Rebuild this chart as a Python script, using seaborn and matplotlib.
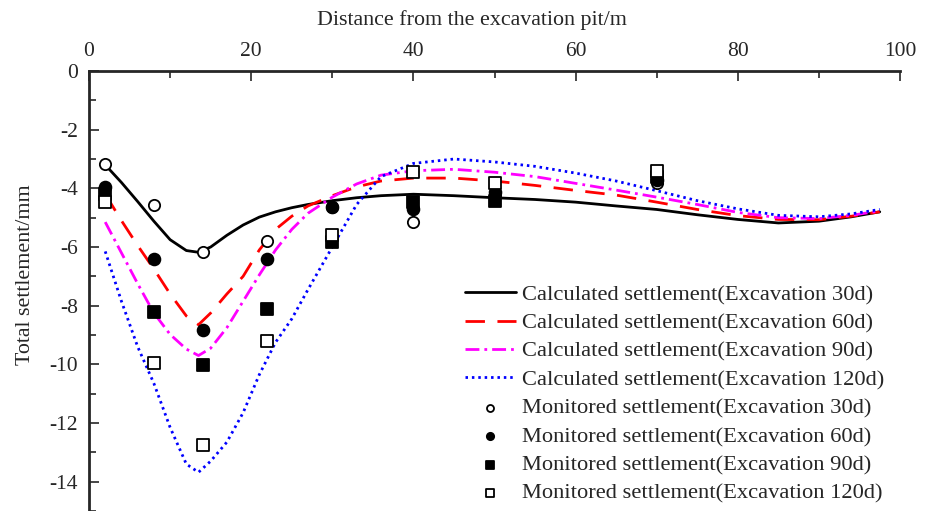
import matplotlib
matplotlib.use("Agg")
import matplotlib.pyplot as plt
from matplotlib.ticker import MultipleLocator
import seaborn as sns
import pandas as pd

# calculated curves
calc_x = [2, 4, 6, 8, 10, 12, 13.5, 15, 17, 19, 21, 23, 25, 27, 30, 33, 36, 40,
          45, 50, 55, 60, 65, 70, 75, 80, 85, 90, 94, 97.5]
calc_30d = [-3.2, -3.8, -4.45, -5.12, -5.75, -6.12, -6.18, -6.0, -5.6, -5.25, -4.98,
            -4.8, -4.66, -4.55, -4.42, -4.32, -4.25, -4.2, -4.25, -4.32, -4.38, -4.47,
            -4.6, -4.72, -4.9, -5.06, -5.18, -5.12, -4.97, -4.8]
calc_60d = [-4.2, -5.1, -5.95, -6.75, -7.6, -8.35, -8.65, -8.25, -7.6, -7.0, -6.1,
            -5.4, -4.95, -4.6, -4.25, -3.95, -3.75, -3.65, -3.65, -3.75, -3.9, -4.07,
            -4.23, -4.47, -4.72, -4.93, -5.06, -5.07, -4.95, -4.8]
calc_90d = [-5.15, -6.2, -7.25, -8.25, -8.98, -9.48, -9.7, -9.45, -8.75, -7.85, -6.95,
            -6.1, -5.4, -4.85, -4.3, -3.85, -3.55, -3.4, -3.35, -3.45, -3.6, -3.83,
            -4.06, -4.3, -4.55, -4.82, -5.0, -5.03, -4.92, -4.77]
calc_120d = [-6.15, -7.85, -9.4, -10.65, -12.15, -13.4, -13.68, -13.3, -12.65, -11.65,
             -10.35, -9.25, -8.45, -7.45, -6.0, -4.55, -3.6, -3.15, -3.0, -3.1, -3.25,
             -3.48, -3.75, -4.08, -4.42, -4.7, -4.92, -4.97, -4.87, -4.72]

# monitored points
mon_x = [2, 8, 14, 22, 30, 40, 50, 70]
mon_30d = [-3.17, -4.57, -6.17, -5.8, -4.62, -5.15, -4.2, -3.82]
mon_60d = [-3.95, -6.4, -8.82, -6.42, -4.63, -4.72, -4.12, -3.7]
mon_90d = [-4.18, -8.22, -10.03, -8.12, -5.82, -4.45, -4.42, -3.62]
mon_120d = [-4.48, -9.95, -12.75, -9.2, -5.6, -3.45, -3.83, -3.4]

calc_names = ["Calculated settlement(Excavation 30d)", "Calculated settlement(Excavation 60d)",
              "Calculated settlement(Excavation 90d)", "Calculated settlement(Excavation 120d)"]
mon_names = ["Monitored settlement(Excavation 30d)", "Monitored settlement(Excavation 60d)",
             "Monitored settlement(Excavation 90d)", "Monitored settlement(Excavation 120d)"]

calc_df = pd.concat([
    pd.DataFrame({"x": calc_x, "y": ys, "series": n})
    for ys, n in zip([calc_30d, calc_60d, calc_90d, calc_120d], calc_names)
])

sns.set_style("ticks")
plt.rcParams["font.family"] = ["Liberation Serif", "DejaVu Serif"]
plt.rcParams["axes.unicode_minus"] = False

fig = plt.figure(figsize=(9.35, 5.11), dpi=100)
ax = fig.add_axes([0.0952, 0.0, 0.8674, 0.861])

palette = dict(zip(calc_names, ["black", "red", "magenta", "blue"]))
dashes = dict(zip(calc_names, ["", (7, 4.5), (5, 1.8, 1, 1.8), (0.9, 1.4)]))
sns.lineplot(data=calc_df, x="x", y="y", hue="series", style="series",
             palette=palette, dashes=dashes, linewidth=2.0, estimator=None,
             legend=False, ax=ax)

mon_style = [("o", "white", 66), ("o", "black", 72), ("s", "black", 72), ("s", "white", 70)]
for ys, n, (m, fc, s) in zip([mon_30d, mon_60d, mon_90d, mon_120d], mon_names, mon_style):
    sns.scatterplot(x=mon_x, y=ys, marker=m, s=s, facecolor=fc, edgecolor="black",
                    linewidth=1.3, label=n, legend=False, ax=ax, zorder=3)

ax.set_xlim(0, 100)
ax.set_ylim(-15, 0)
ax.xaxis.set_major_locator(MultipleLocator(20))
ax.xaxis.set_minor_locator(MultipleLocator(10))
ax.yaxis.set_major_locator(MultipleLocator(2))
ax.yaxis.set_minor_locator(MultipleLocator(1))
ax.xaxis.tick_top()
ax.xaxis.set_label_position("top")
ax.tick_params(which="both", direction="in", width=1.2, labelsize=15.5,
               top=True, bottom=False, left=True, right=False)
ax.tick_params(which="major", length=7)
ax.tick_params(which="minor", length=5)
ax.tick_params(axis="x", pad=7)
ax.tick_params(axis="y", pad=8)
for side in ["right", "bottom"]:
    ax.spines[side].set_visible(False)
for side in ["left", "top"]:
    ax.spines[side].set_linewidth(2)

ax.set_xlabel("Distance from the excavation pit/m", fontsize=15.8)
ax.set_ylabel("Total settlement/mm", fontsize=15.8)
ax.xaxis.set_label_coords(0.472, 1.105)
ax.yaxis.set_label_coords(-0.066, 0.536)

handles = list(ax.get_lines()) + list(ax.collections)
labels = calc_names + mon_names
ax.legend(handles, labels, loc="upper left", bbox_to_anchor=(0.4636, 0.515),
          frameon=False, fontsize=16.2, handlelength=2.25, handletextpad=0.28,
          labelspacing=0.34, borderpad=0, borderaxespad=0, markerscale=0.62,
          scatterpoints=1)

fig.savefig("out.png", dpi=100)
